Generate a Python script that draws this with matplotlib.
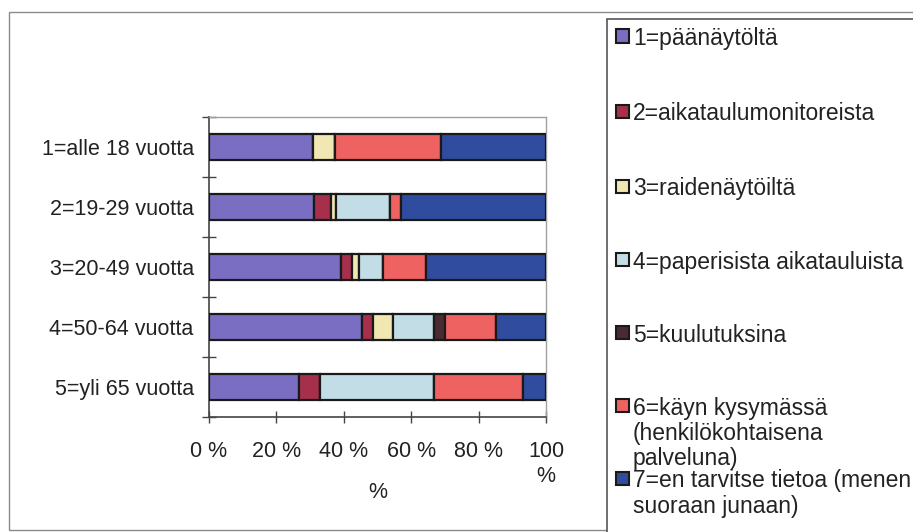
import matplotlib
matplotlib.use("Agg")
import matplotlib.pyplot as plt
from matplotlib.patches import Rectangle
import numpy as np

plt.rcParams["font.family"] = ["Liberation Sans", "DejaVu Sans"]

# Age groups (top to bottom) and information sources
categories = ["1=alle 18 vuotta", "2=19-29 vuotta", "3=20-49 vuotta",
              "4=50-64 vuotta", "5=yli 65 vuotta"]
series_names = [
    "1=päänäytöltä",
    "2=aikataulumonitoreista",
    "3=raidenäytöiltä",
    "4=paperisista aikatauluista",
    "5=kuulutuksina",
    "6=käyn kysymässä\n(henkilökohtaisena\npalveluna)",
    "7=en tarvitse tietoa (menen\nsuoraan junaan)",
]
# Share (%) of each source per age group
paanaytolta = [31.0, 31.3, 39.3, 45.5, 26.6]
monitorit = [0.0, 5.0, 3.2, 3.1, 6.4]
raidenaytot = [6.3, 1.5, 2.1, 5.9, 0.0]
paperiset = [0.0, 15.9, 7.1, 12.2, 33.9]
kuulutukset = [0.0, 0.0, 0.0, 3.2, 0.0]
kysyn = [31.4, 3.2, 12.8, 15.2, 26.4]
en_tarvitse = [31.3, 43.1, 35.5, 14.9, 6.7]
series_values = [paanaytolta, monitorit, raidenaytot, paperiset,
                 kuulutukset, kysyn, en_tarvitse]
xtick_values = [0, 20, 40, 60, 80, 100]
xtick_labels = ["0 %", "20 %", "40 %", "60 %", "80 %", "100\n%"]

colors = ["#7A6EC2", "#A6304C", "#F0E7B2", "#C3DDE6", "#4A2B31",
          "#EF6262", "#2F4C9E"]

W, H = 913, 532
fig = plt.figure(figsize=(W / 100, H / 100), dpi=100)
fig.patch.set_facecolor("white")


def fx(px):
    return px / W


def fy(py):
    return 1 - py / H


# Outer chart frame
fig.add_artist(Rectangle((fx(9), fy(530)), fx(930) - fx(9), fy(12) - fy(530),
                         transform=fig.transFigure, fill=False,
                         edgecolor="#8a8a8a", lw=1.0))

ax = fig.add_axes([fx(209), fy(417), fx(546) - fx(209), fy(117) - fy(417)])
ax.set_facecolor("white")

y = np.arange(len(categories))
left = np.zeros(len(categories))
for vals, col in zip(series_values, colors):
    vals = np.asarray(vals)
    ax.barh(y, vals, left=left, height=0.42, color=col,
            edgecolor="#1a1a1a", linewidth=1.6, zorder=3)
    left += vals

ax.set_xlim(0, 100)
ax.set_ylim(len(categories) - 0.5, -0.5)

ax.set_yticks(y)
ax.set_yticklabels(categories, fontsize=15.5, color="#222222")
ax.set_yticks(np.arange(len(categories) + 1) - 0.5, minor=True)
ax.tick_params(axis="y", which="major", length=0, pad=11)
ax.tick_params(axis="y", which="minor", direction="inout", length=10,
               width=1.0, color="#444444")

ax.set_xticks(xtick_values)
ax.set_xticklabels(xtick_labels, fontsize=15.5, color="#222222",
                   linespacing=1.25)
ax.tick_params(axis="x", which="major", direction="inout", length=9,
               width=1.0, color="#444444", pad=13)
ax.set_xlabel("%", fontsize=15.5, color="#222222", labelpad=-4)

for side in ("top", "right"):
    ax.spines[side].set_color("#a0a0a0")
    ax.spines[side].set_linewidth(1.0)
for side in ("left", "bottom"):
    ax.spines[side].set_color("#444444")
    ax.spines[side].set_linewidth(1.2)

# Legend box drawn by hand
fig.add_artist(Rectangle((fx(607), fy(560)), fx(960) - fx(607), fy(19) - fy(560),
                         transform=fig.transFigure, fill=True,
                         facecolor="white", edgecolor="#555555", lw=1.2))
entry_y = [36, 111, 186, 259, 332, 405, 478]
for name, col, ey in zip(series_names, colors, entry_y):
    fig.add_artist(Rectangle((fx(616), fy(ey + 6.5)), fx(629) - fx(616),
                             fy(ey - 6.5) - fy(ey + 6.5),
                             transform=fig.transFigure, facecolor=col,
                             edgecolor="#1a1a1a", lw=1.5))
    fig.text(fx(633), fy(ey - 8.5), name, fontsize=16.5, color="#222222",
             va="top", ha="left", linespacing=1.12,
             transform=fig.transFigure)

fig.savefig("out.png", dpi=100, facecolor="white")
